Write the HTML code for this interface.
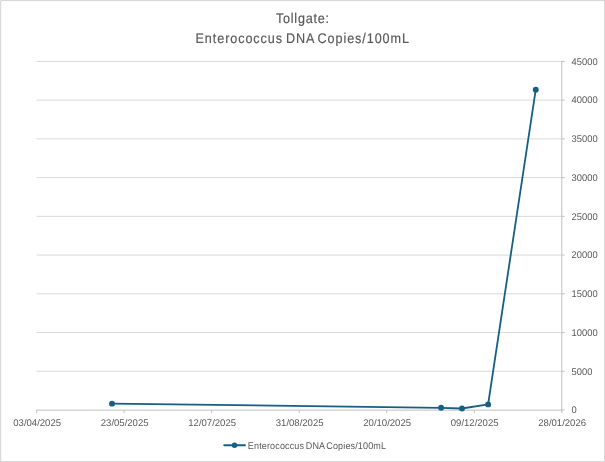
<!DOCTYPE html>
<html><head><meta charset="utf-8"><title>Tollgate: Enterococcus DNA Copies/100mL</title>
<style>html,body{margin:0;padding:0;background:#fff}svg{display:block}text{font-family:"Liberation Sans",Arial,sans-serif;fill:#595959}</style></head>
<body>
<svg width="605" height="462" viewBox="0 0 605 462">
<rect x="0" y="0" width="605" height="462" fill="#fff"/>
<rect x="0.5" y="0.5" width="604" height="461" fill="none" stroke="#d9d9d9" stroke-width="1"/>
<rect x="0" y="0" width="1.2" height="462" fill="#d9d9d9"/>
<rect x="0" y="0" width="605" height="1.1" fill="#d9d9d9"/>
<rect x="0" y="0" width="1" height="1" fill="#ececec"/>
<line x1="36.6" y1="61.40" x2="561.8" y2="61.40" stroke="#d9d9d9" stroke-width="1"/>
<line x1="36.6" y1="100.13" x2="561.8" y2="100.13" stroke="#d9d9d9" stroke-width="1"/>
<line x1="36.6" y1="138.87" x2="561.8" y2="138.87" stroke="#d9d9d9" stroke-width="1"/>
<line x1="36.6" y1="177.60" x2="561.8" y2="177.60" stroke="#d9d9d9" stroke-width="1"/>
<line x1="36.6" y1="216.33" x2="561.8" y2="216.33" stroke="#d9d9d9" stroke-width="1"/>
<line x1="36.6" y1="255.07" x2="561.8" y2="255.07" stroke="#d9d9d9" stroke-width="1"/>
<line x1="36.6" y1="293.80" x2="561.8" y2="293.80" stroke="#d9d9d9" stroke-width="1"/>
<line x1="36.6" y1="332.53" x2="561.8" y2="332.53" stroke="#d9d9d9" stroke-width="1"/>
<line x1="36.6" y1="371.27" x2="561.8" y2="371.27" stroke="#d9d9d9" stroke-width="1"/>
<line x1="36.1" y1="410.15" x2="562.3" y2="410.15" stroke="#bfbfbf" stroke-width="1"/>
<line x1="561.8" y1="60.9" x2="561.8" y2="410.65" stroke="#bfbfbf" stroke-width="1"/>
<line x1="36.60" y1="410.15" x2="36.60" y2="412.95" stroke="#bfbfbf" stroke-width="1"/>
<text transform="translate(37.15,426) scale(0.985,1)" font-size="9.7" text-anchor="middle" text-rendering="geometricPrecision">03/04/2025</text>
<line x1="124.13" y1="410.15" x2="124.13" y2="412.95" stroke="#bfbfbf" stroke-width="1"/>
<text transform="translate(124.65,426) scale(0.985,1)" font-size="9.7" text-anchor="middle" text-rendering="geometricPrecision">23/05/2025</text>
<line x1="211.67" y1="410.15" x2="211.67" y2="412.95" stroke="#bfbfbf" stroke-width="1"/>
<text transform="translate(212.15,426) scale(0.985,1)" font-size="9.7" text-anchor="middle" text-rendering="geometricPrecision">12/07/2025</text>
<line x1="299.20" y1="410.15" x2="299.20" y2="412.95" stroke="#bfbfbf" stroke-width="1"/>
<text transform="translate(299.65,426) scale(0.985,1)" font-size="9.7" text-anchor="middle" text-rendering="geometricPrecision">31/08/2025</text>
<line x1="386.73" y1="410.15" x2="386.73" y2="412.95" stroke="#bfbfbf" stroke-width="1"/>
<text transform="translate(387.15,426) scale(0.985,1)" font-size="9.7" text-anchor="middle" text-rendering="geometricPrecision">20/10/2025</text>
<line x1="474.27" y1="410.15" x2="474.27" y2="412.95" stroke="#bfbfbf" stroke-width="1"/>
<text transform="translate(474.65,426) scale(0.985,1)" font-size="9.7" text-anchor="middle" text-rendering="geometricPrecision">09/12/2025</text>
<line x1="561.80" y1="410.15" x2="561.80" y2="412.95" stroke="#bfbfbf" stroke-width="1"/>
<text transform="translate(562.15,426) scale(0.985,1)" font-size="9.7" text-anchor="middle" text-rendering="geometricPrecision">28/01/2026</text>
<line x1="561.8" y1="61.40" x2="564.5999999999999" y2="61.40" stroke="#bfbfbf" stroke-width="1"/>
<text transform="translate(571.6,65) scale(0.965,1)" font-size="9.7" text-rendering="geometricPrecision">45000</text>
<line x1="561.8" y1="100.13" x2="564.5999999999999" y2="100.13" stroke="#bfbfbf" stroke-width="1"/>
<text transform="translate(571.6,103) scale(0.965,1)" font-size="9.7" text-rendering="geometricPrecision">40000</text>
<line x1="561.8" y1="138.87" x2="564.5999999999999" y2="138.87" stroke="#bfbfbf" stroke-width="1"/>
<text transform="translate(571.6,142) scale(0.965,1)" font-size="9.7" text-rendering="geometricPrecision">35000</text>
<line x1="561.8" y1="177.60" x2="564.5999999999999" y2="177.60" stroke="#bfbfbf" stroke-width="1"/>
<text transform="translate(571.6,181) scale(0.965,1)" font-size="9.7" text-rendering="geometricPrecision">30000</text>
<line x1="561.8" y1="216.33" x2="564.5999999999999" y2="216.33" stroke="#bfbfbf" stroke-width="1"/>
<text transform="translate(571.6,220) scale(0.965,1)" font-size="9.7" text-rendering="geometricPrecision">25000</text>
<line x1="561.8" y1="255.07" x2="564.5999999999999" y2="255.07" stroke="#bfbfbf" stroke-width="1"/>
<text transform="translate(571.6,258) scale(0.965,1)" font-size="9.7" text-rendering="geometricPrecision">20000</text>
<line x1="561.8" y1="293.80" x2="564.5999999999999" y2="293.80" stroke="#bfbfbf" stroke-width="1"/>
<text transform="translate(571.6,297) scale(0.965,1)" font-size="9.7" text-rendering="geometricPrecision">15000</text>
<line x1="561.8" y1="332.53" x2="564.5999999999999" y2="332.53" stroke="#bfbfbf" stroke-width="1"/>
<text transform="translate(571.6,336) scale(0.965,1)" font-size="9.7" text-rendering="geometricPrecision">10000</text>
<line x1="561.8" y1="371.27" x2="564.5999999999999" y2="371.27" stroke="#bfbfbf" stroke-width="1"/>
<text transform="translate(571.6,375) scale(0.965,1)" font-size="9.7" text-rendering="geometricPrecision">5000</text>
<line x1="561.8" y1="410.00" x2="564.5999999999999" y2="410.00" stroke="#bfbfbf" stroke-width="1"/>
<text transform="translate(571.6,413) scale(0.965,1)" font-size="9.7" text-rendering="geometricPrecision">0</text>
<polyline points="112.0,403.65 441.1,407.8 462.0,408.5 488.1,404.4 535.75,89.7" fill="none" stroke="#156082" stroke-width="1.8" stroke-linejoin="round" stroke-linecap="round"/>
<circle cx="112.0" cy="403.65" r="2.95" fill="#156082"/>
<circle cx="441.1" cy="407.8" r="2.95" fill="#156082"/>
<circle cx="462.0" cy="408.5" r="2.95" fill="#156082"/>
<circle cx="488.1" cy="404.4" r="2.95" fill="#156082"/>
<circle cx="535.75" cy="89.7" r="2.95" fill="#156082"/>
<text transform="translate(302.85,23.3) scale(0.9,1)" font-size="14" text-anchor="middle" stroke="#595959" stroke-width="0.18" text-rendering="geometricPrecision" style="letter-spacing:0.85px">Tollgate:</text>
<text transform="translate(302.7,43.0) scale(0.9,1)" font-size="14" text-anchor="middle" stroke="#595959" stroke-width="0.18" text-rendering="geometricPrecision" style="letter-spacing:1.025px;word-spacing:-1.6px">Enterococcus DNA Copies/100mL</text>
<line x1="224.2" y1="445.2" x2="245.0" y2="445.2" stroke="#156082" stroke-width="1.85" stroke-linecap="round"/>
<circle cx="234.5" cy="445.2" r="2.75" fill="#156082"/>
<text transform="translate(247.85,448.6) scale(0.932,1)" font-size="9.7" text-rendering="geometricPrecision" style="letter-spacing:0.14px;word-spacing:-1.1px">Enterococcus DNA Copies/100mL</text>
</svg>
</body></html>
